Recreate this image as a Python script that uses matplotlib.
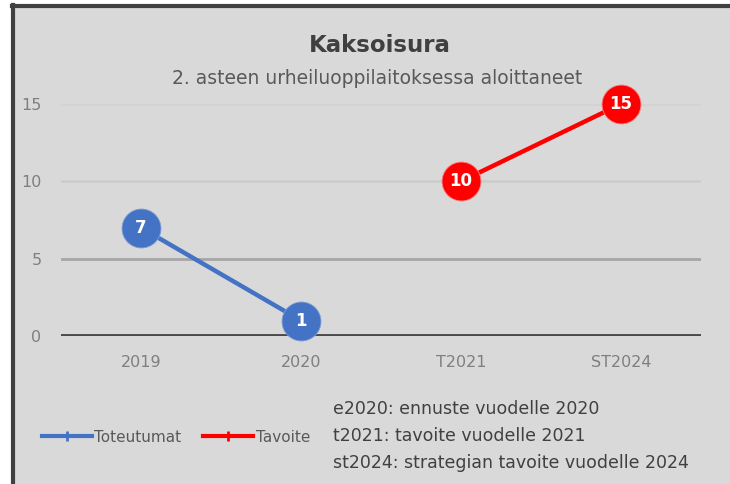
import matplotlib
matplotlib.use("Agg")
import matplotlib.pyplot as plt
from matplotlib.patches import Rectangle
from matplotlib.lines import Line2D

categories = ["2019", "2020", "T2021", "ST2024"]
toteutumat = [7, 1]          # 2019, 2020
tavoite = [10, 15]           # T2021, ST2024
yticks = [0, 5, 10, 15]
notes = ["e2020: ennuste vuodelle 2020",
         "t2021: tavoite vuodelle 2021",
         "st2024: strategian tavoite vuodelle 2024"]

BLUE = "#4472c4"
RED = "#ff0000"
TXT = "#595959"
BG = "#d9d9d9"
W, H = 730, 484

plt.rcParams["font.family"] = ["DejaVu Sans"]

fig = plt.figure(figsize=(W / 100, H / 100), dpi=100, facecolor="white")
# harmaa kaavioalue, tumma reuna vasemmalla ja ylhaalla
fig.patches.append(Rectangle((12 / W, 0), 1 - 12 / W, 1 - 6 / H, transform=fig.transFigure,
                             facecolor=BG, edgecolor="none", zorder=-5))
fig.lines.append(Line2D([13 / W, 13 / W], [0, 1 - 5 / H], transform=fig.transFigure,
                        color="#404040", lw=3))
fig.lines.append(Line2D([12 / W, 1], [1 - 6 / H, 1 - 6 / H], transform=fig.transFigure,
                        color="#404040", lw=3))

ax = fig.add_axes([61 / W, 1 - 336 / H, 640 / W, (336 - 104) / H])
ax.set_zorder(2)
ax.set_facecolor("none")
ax.set_xlim(-0.5, 3.5)
ax.set_ylim(0, 15)
for s in ax.spines.values():
    s.set_visible(False)

grid_cols = {0: "#4a4a4a", 5: "#a6a6a6", 10: "#cdcdcd", 15: "#d3d3d3"}
for y in yticks:
    ax.axhline(y, color=grid_cols[y], lw=3.5 if y == 0 else 2, zorder=1)

ax.set_yticks(yticks)
ax.set_xticks(range(len(categories)))
ax.set_xticklabels(categories)
ax.tick_params(length=0, colors="#7f7f7f", labelsize=11.5)
ax.tick_params(axis="y", pad=14)
ax.tick_params(axis="x", pad=14)

x_t = [0, 1]
x_v = [2, 3]
ax.plot(x_t, toteutumat, color=BLUE, lw=3.2, marker="o", ms=28, mec="#7d9bd4", mew=0.6,
        zorder=3, clip_on=False)
ax.plot(x_v, tavoite, color=RED, lw=3.2, marker="o", ms=28, mec="#ff8080", mew=0.6,
        zorder=3, clip_on=False)
for x, v in zip(x_t, toteutumat):
    ax.text(x, v, str(v), color="white", fontsize=12, fontweight="bold",
            ha="center", va="center", zorder=4)
for x, v in zip(x_v, tavoite):
    ax.text(x, v, str(v), color="white", fontsize=12, fontweight="bold",
            ha="center", va="center", zorder=4)

fig.text(380 / W, 1 - 45 / H, "Kaksoisura", ha="center", va="center",
         fontsize=16.5, fontweight="bold", color="#404040")
fig.text(377 / W, 1 - 78 / H, "2. asteen urheiluoppilaitoksessa aloittaneet",
         ha="center", va="center", fontsize=13.5, color=TXT)

# selite
handles = [Line2D([], [], color=BLUE, lw=3, marker="|", ms=7, mew=2),
           Line2D([], [], color=RED, lw=3, marker="|", ms=7, mew=2)]
leg = fig.legend(handles, ["Toteutumat", "Tavoite"], loc="center left",
                 bbox_to_anchor=(28 / W, 1 - 437 / H), ncol=2, frameon=False,
                 fontsize=11, labelcolor=TXT, handlelength=3.3, handletextpad=0.15,
                 columnspacing=1.4)

for i, n in enumerate(notes):
    fig.text(333 / W, 1 - (409 + 27 * i) / H, n, ha="left", va="center",
             fontsize=12.5, color="#404040")

fig.savefig("out.png", dpi=100, facecolor=fig.get_facecolor())
